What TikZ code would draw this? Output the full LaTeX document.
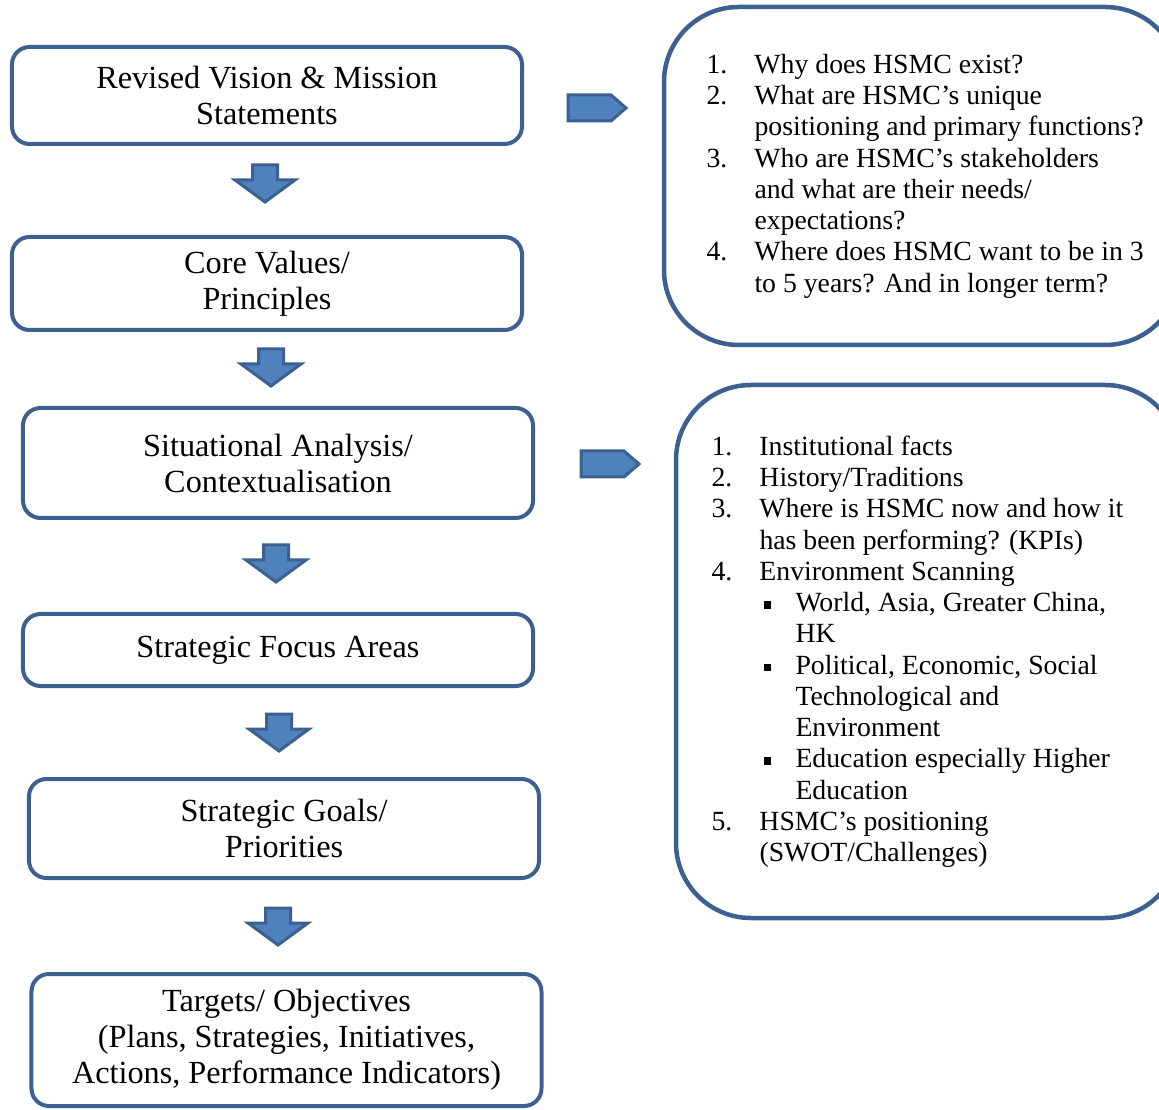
\documentclass[tikz,border=0pt]{standalone}
\usepackage{fontspec}
\setmainfont{Liberation Serif}
\usetikzlibrary{positioning}

\definecolor{boxblue}{RGB}{60,97,145}
\definecolor{arrowblue}{RGB}{79,129,189}

% number column and bullets of the two lists
\newcommand{\numlbl}[1]{\strut\makebox[19.2pt][l]{#1}}
\newcommand{\numgap}{\strut\hspace*{19.2pt}}
\newcommand{\bullbl}{\hspace*{1.6pt}\makebox[12.8pt][l]{\rule[1.2pt]{3pt}{3pt}}}
\newcommand{\bulgap}{\hspace*{14.4pt}}

\tikzset{
  stagebox/.style={draw=boxblue, line width=1.6pt, rounded corners=7pt,
    align=center, inner sep=0pt, minimum width=204pt,
    font=\fontsize{12.9}{14.4}\selectfont},
  infoframe/.style={draw=boxblue, line width=1.8pt, rounded corners=30pt, inner sep=0pt},
  infotext/.style={anchor=north west, align=left, inner sep=0pt,
    font=\fontsize{11.1}{12.5}\selectfont},
  downarr/.pic={
    \filldraw[fill=arrowblue, draw=boxblue, line width=1.2pt]
      (-12.5,0) -- (12.5,0) -- (12.5,15) -- (30,15) -- (0,37) -- (-30,15) -- (-12.5,15) -- cycle;
  },
  rightarr/.pic={
    \filldraw[fill=arrowblue, draw=boxblue, line width=1.2pt]
      (0,-13) -- (43,-13) -- (58,0) -- (43,13) -- (0,13) -- cycle;
  }
}

\begin{document}
\begin{tikzpicture}[x=0.4pt,y=-0.4pt]
  \useasboundingbox (0,0) rectangle (1159,1110);
  \clip (0,0) rectangle (1159,1110);

  % left column
  \node[stagebox, minimum height=38.8pt] (vision) at (267,95.5) {Revised Vision \& Mission\\Statements};
  \node[stagebox, minimum height=37.2pt] (values) at (267,283.5) {Core Values/\\Principles};
  \node[stagebox, minimum height=44pt] (situation) at (278,463) {Situational Analysis/\\Contextualisation};
  \node[stagebox, minimum height=28.8pt] (focus) at (278,650) {Strategic Focus Areas};
  \node[stagebox, minimum height=39.6pt] (goals) at (284,828.5) {Strategic Goals/\\Priorities};
  \node[stagebox, minimum height=52.8pt] (targets) at (286.5,1040) {Targets/ Objectives\\(Plans, Strategies, Initiatives,\\Actions, Performance Indicators)};

  \pic at ([shift={(-2,19)}]vision.south) {downarr};
  \pic at ([shift={(4,17)}]values.south) {downarr};
  \pic at ([shift={(-2,25)}]situation.south) {downarr};
  \pic at ([shift={(1,26)}]focus.south) {downarr};
  \pic at ([shift={(-6,28)}]goals.south) {downarr};

  % right column
  \node[infoframe, minimum width=206.4pt, minimum height=135.2pt] (questions) at (922,176) {};
  \node[infoframe, minimum width=201.6pt, minimum height=213.2pt] (context) at (928,651.5) {};

  \pic at ([shift={(44,12.5)}]vision.east) {rightarr};
  \pic at ([shift={(46,1)}]situation.east) {rightarr};

  \node[infotext] (questionlist) at (706,51) {%
    \numlbl{1.}Why does HSMC exist?\\
    \numlbl{2.}What are HSMC’s unique\\
    \numgap positioning and primary functions?\\
    \numlbl{3.}Who are HSMC’s stakeholders\\
    \numgap and what are their needs/\\
    \numgap expectations?\\
    \numlbl{4.}Where does HSMC want to be in 3\\
    \numgap to 5 years? And in longer term?};

  \node[infotext] (contextlist) at (711,433) {%
    \numlbl{1.}Institutional facts\\
    \numlbl{2.}History/Traditions\\
    \numlbl{3.}Where is HSMC now and how it\\
    \numgap has been performing? (KPIs)\\
    \numlbl{4.}Environment Scanning\\
    \numgap\bullbl World, Asia, Greater China,\\
    \numgap\bulgap HK\\
    \numgap\bullbl Political, Economic, Social\\
    \numgap\bulgap Technological and\\
    \numgap\bulgap Environment\\
    \numgap\bullbl Education especially Higher\\
    \numgap\bulgap Education\\
    \numlbl{5.}HSMC’s positioning\\
    \numgap (SWOT/Challenges)};
\end{tikzpicture}
\end{document}
